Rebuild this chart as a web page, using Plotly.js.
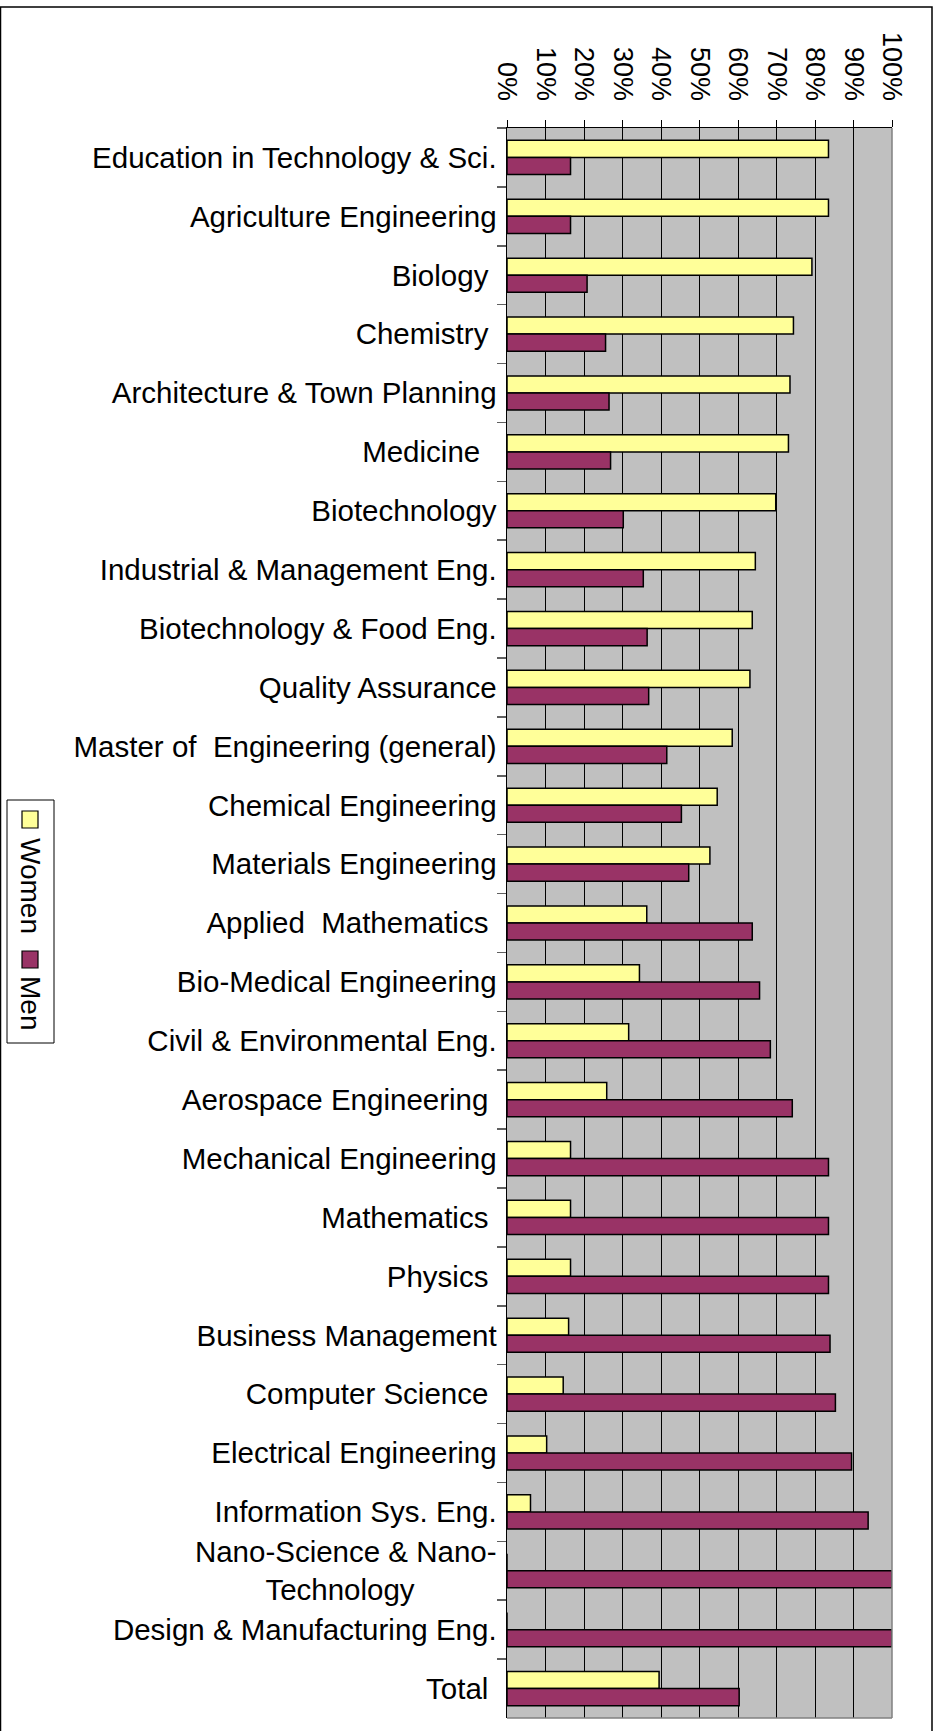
<!DOCTYPE html>
<html>
<head>
<meta charset="utf-8">
<script src="https://cdn.plot.ly/plotly-3.0.1.min.js"></script>
<style>
  html, body { margin: 0; padding: 0; background: #ffffff; }
  #chart { width: 935px; height: 1731px; }
</style>
</head>
<body>
<div id="chart"></div>
<script>
// ---- data ----
const categories = [
  "Education in Technology & Sci.",
  "Agriculture Engineering",
  "Biology\u00a0",
  "Chemistry\u00a0",
  "Architecture & Town Planning",
  "Medicine\u00a0\u00a0",
  "Biotechnology",
  "Industrial & Management Eng.",
  "Biotechnology & Food Eng.",
  "Quality Assurance",
  "Master of\u00a0 Engineering (general)",
  "Chemical Engineering",
  "Materials Engineering",
  "Applied\u00a0 Mathematics\u00a0",
  "Bio-Medical Engineering",
  "Civil & Environmental Eng.",
  "Aerospace Engineering\u00a0",
  "Mechanical Engineering",
  "Mathematics\u00a0",
  "Physics\u00a0",
  "Business Management",
  "Computer Science\u00a0",
  "Electrical Engineering",
  "Information Sys. Eng.",
  "Nano-Science & Nano-<br>Technology\u00a0\u00a0\u00a0\u00a0\u00a0\u00a0\u00a0\u00a0\u00a0\u00a0",
  "Design & Manufacturing Eng.",
  "Total\u00a0"
];
const women = [83.5, 83.5, 79.2, 74.4, 73.5, 73.1, 69.8, 64.5, 63.7, 63.1, 58.5, 54.6, 52.7,
               36.3, 34.4, 31.6, 25.9, 16.5, 16.5, 16.5, 16.0, 14.6, 10.3, 6.1, 0, 0, 39.5];
const men   = [16.5, 16.5, 20.8, 25.6, 26.5, 26.9, 30.2, 35.4, 36.4, 36.8, 41.5, 45.3, 47.2,
               63.7, 65.6, 68.4, 74.1, 83.5, 83.5, 83.5, 83.9, 85.3, 89.5, 93.8, 100, 100, 60.3];
const seriesNames = ["Women", "Men"];
const seriesColors = ["#FFFF99", "#993366"];

// ---- layout geometry ----
const W = 935, H = 1731;
const ML = 507, MR = 43, MT = 128, MB = 13;
const PW = W - ML - MR, PH = H - MT - MB;
const px = v => (v - ML) / PW;          // pixel x -> paper x
const py = v => (H - MB - v) / PH;      // pixel y -> paper y
const FONT = '"Liberation Sans", Arial, sans-serif';

const traces = [women, men].map((vals, i) => ({
  type: 'bar',
  orientation: 'h',
  name: seriesNames[i],
  y: categories,
  x: vals,
  marker: { color: seriesColors[i], line: { color: '#000000', width: 1.5 } },
  hoverinfo: 'x+y+name'
}));

const shapes = [
  // outer chart frame
  { type: 'rect', xref: 'paper', yref: 'paper', x0: px(0.5), x1: px(932), y0: py(7), y1: py(1760),
    line: { color: '#000000', width: 1.5 }, fillcolor: 'rgba(0,0,0,0)' },
  // plot area right and bottom edges (gray)
  { type: 'line', xref: 'paper', yref: 'paper', x0: 1, x1: 1, y0: 0, y1: 1, line: { color: '#808080', width: 1.5 } },
  { type: 'line', xref: 'paper', yref: 'paper', x0: 0, x1: 1, y0: 0, y1: 0, line: { color: '#808080', width: 1.5 } },
  // legend box
  { type: 'rect', xref: 'paper', yref: 'paper', x0: px(7), x1: px(54), y0: py(800), y1: py(1043),
    line: { color: '#000000', width: 1 }, fillcolor: '#ffffff' },
  // legend swatches
  { type: 'rect', xref: 'paper', yref: 'paper', x0: px(22), x1: px(38), y0: py(811), y1: py(828),
    line: { color: '#000000', width: 1.2 }, fillcolor: seriesColors[0] },
  { type: 'rect', xref: 'paper', yref: 'paper', x0: px(22), x1: px(38), y0: py(951), y1: py(968),
    line: { color: '#000000', width: 1.2 }, fillcolor: seriesColors[1] }
];

const annotations = [
  { text: seriesNames[0], xref: 'paper', yref: 'paper', x: px(31), y: py(886), showarrow: false,
    textangle: 90, xanchor: 'center', yanchor: 'middle', font: { family: FONT, size: 28, color: '#000' } },
  { text: seriesNames[1], xref: 'paper', yref: 'paper', x: px(31), y: py(1003), showarrow: false,
    textangle: 90, xanchor: 'center', yanchor: 'middle', font: { family: FONT, size: 28, color: '#000' } }
];

const layout = {
  width: W, height: H,
  margin: { l: ML, r: MR, t: MT, b: MB, pad: 0 },
  paper_bgcolor: '#ffffff',
  plot_bgcolor: '#C0C0C0',
  showlegend: false,
  barmode: 'group',
  bargap: 0.42,
  bargroupgap: 0,
  font: { family: FONT, color: '#000000' },
  xaxis: {
    side: 'top',
    range: [0, 100],
    tick0: 0, dtick: 10,
    ticksuffix: '%',
    tickangle: 90,
    ticks: 'outside', ticklen: 7, tickcolor: '#000000', tickwidth: 1,
    showline: true, linecolor: '#000000', linewidth: 1.5,
    showgrid: true, gridcolor: '#000000', gridwidth: 1,
    zeroline: false,
    tickfont: { family: FONT, size: 27, color: '#000000' },
    ticklabelstandoff: 9,
    fixedrange: true
  },
  yaxis: {
    type: 'category',
    autorange: 'reversed',
    tickson: 'boundaries',
    ticks: 'outside', ticklen: 9, tickcolor: '#606060', tickwidth: 1.5,
    showline: true, linecolor: '#000000', linewidth: 1.5,
    showgrid: false, zeroline: false,
    tickfont: { family: FONT, size: 29.5, color: '#000000' },
    ticklabelstandoff: 3,
    fixedrange: true
  },
  shapes: shapes,
  annotations: annotations
};

Plotly.newPlot('chart', traces, layout, { displayModeBar: false, staticPlot: true });
</script>
</body>
</html>
